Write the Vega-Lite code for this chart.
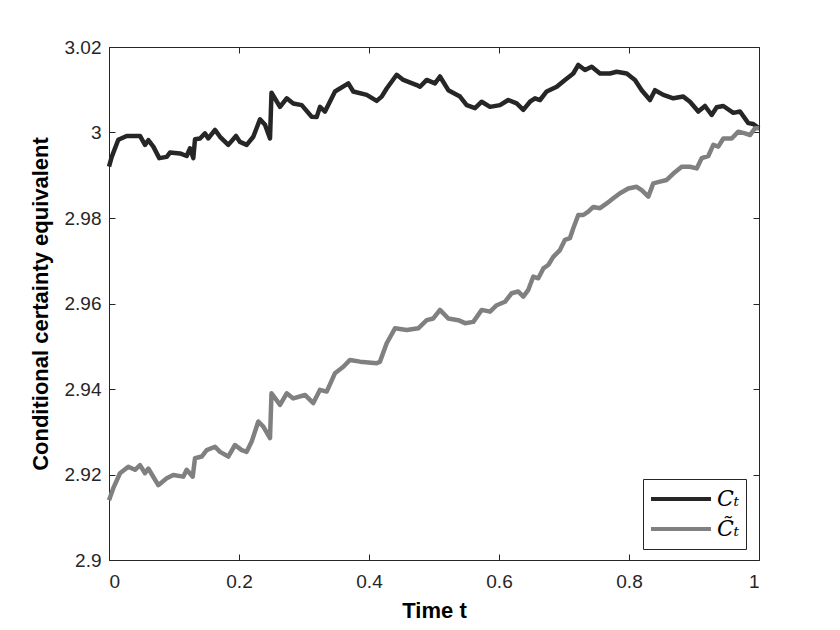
{
  "$schema": "https://vega.github.io/schema/vega-lite/v6.json",
  "width": 650,
  "height": 513,
  "autosize": "none",
  "padding": {"left": 109, "top": 47, "right": 81, "bottom": 70},
  "background": "white",
  "config": {
    "view": {"stroke": "#262626", "strokeWidth": 1},
    "font": "Liberation Sans",
    "axis": {"labelFontSize": 19, "titleFontSize": 22}
  },
  "data": {
    "values": [
      {"t": 0, "v": 2.992, "s": "a"},
      {"t": 0.0042, "v": 2.9943, "s": "a"},
      {"t": 0.0143, "v": 2.9983, "s": "a"},
      {"t": 0.0272, "v": 2.9992, "s": "a"},
      {"t": 0.0477, "v": 2.9992, "s": "a"},
      {"t": 0.0554, "v": 2.9971, "s": "a"},
      {"t": 0.0605, "v": 2.9982, "s": "a"},
      {"t": 0.0682, "v": 2.9967, "s": "a"},
      {"t": 0.0774, "v": 2.994, "s": "a"},
      {"t": 0.0888, "v": 2.9943, "s": "a"},
      {"t": 0.0938, "v": 2.9953, "s": "a"},
      {"t": 0.1092, "v": 2.9951, "s": "a"},
      {"t": 0.1195, "v": 2.9945, "s": "a"},
      {"t": 0.1246, "v": 2.9963, "s": "a"},
      {"t": 0.1297, "v": 2.994, "s": "a"},
      {"t": 0.1323, "v": 2.9984, "s": "a"},
      {"t": 0.14, "v": 2.9986, "s": "a"},
      {"t": 0.1477, "v": 2.9998, "s": "a"},
      {"t": 0.1528, "v": 2.9986, "s": "a"},
      {"t": 0.1631, "v": 3.0006, "s": "a"},
      {"t": 0.1708, "v": 2.999, "s": "a"},
      {"t": 0.1835, "v": 2.9971, "s": "a"},
      {"t": 0.1954, "v": 2.9992, "s": "a"},
      {"t": 0.2015, "v": 2.9978, "s": "a"},
      {"t": 0.2118, "v": 2.9971, "s": "a"},
      {"t": 0.222, "v": 2.999, "s": "a"},
      {"t": 0.2323, "v": 3.0031, "s": "a"},
      {"t": 0.24, "v": 3.0018, "s": "a"},
      {"t": 0.2477, "v": 2.9986, "s": "a"},
      {"t": 0.25, "v": 3.0093, "s": "a"},
      {"t": 0.2631, "v": 3.006, "s": "a"},
      {"t": 0.2734, "v": 3.008, "s": "a"},
      {"t": 0.2835, "v": 3.0068, "s": "a"},
      {"t": 0.2965, "v": 3.0064, "s": "a"},
      {"t": 0.3118, "v": 3.0037, "s": "a"},
      {"t": 0.3195, "v": 3.0036, "s": "a"},
      {"t": 0.3246, "v": 3.006, "s": "a"},
      {"t": 0.3323, "v": 3.0049, "s": "a"},
      {"t": 0.3477, "v": 3.0096, "s": "a"},
      {"t": 0.3682, "v": 3.0115, "s": "a"},
      {"t": 0.3758, "v": 3.0096, "s": "a"},
      {"t": 0.3965, "v": 3.0088, "s": "a"},
      {"t": 0.4118, "v": 3.0074, "s": "a"},
      {"t": 0.4195, "v": 3.0084, "s": "a"},
      {"t": 0.4272, "v": 3.0103, "s": "a"},
      {"t": 0.4426, "v": 3.0135, "s": "a"},
      {"t": 0.4528, "v": 3.0123, "s": "a"},
      {"t": 0.4734, "v": 3.0111, "s": "a"},
      {"t": 0.4785, "v": 3.0107, "s": "a"},
      {"t": 0.4888, "v": 3.0123, "s": "a"},
      {"t": 0.5015, "v": 3.0115, "s": "a"},
      {"t": 0.5092, "v": 3.0131, "s": "a"},
      {"t": 0.522, "v": 3.0099, "s": "a"},
      {"t": 0.54, "v": 3.0084, "s": "a"},
      {"t": 0.5503, "v": 3.0064, "s": "a"},
      {"t": 0.5631, "v": 3.0057, "s": "a"},
      {"t": 0.5734, "v": 3.0072, "s": "a"},
      {"t": 0.5862, "v": 3.006, "s": "a"},
      {"t": 0.6015, "v": 3.0064, "s": "a"},
      {"t": 0.6143, "v": 3.0076, "s": "a"},
      {"t": 0.6272, "v": 3.0068, "s": "a"},
      {"t": 0.6374, "v": 3.0053, "s": "a"},
      {"t": 0.6477, "v": 3.0072, "s": "a"},
      {"t": 0.6554, "v": 3.008, "s": "a"},
      {"t": 0.6631, "v": 3.0076, "s": "a"},
      {"t": 0.6734, "v": 3.0096, "s": "a"},
      {"t": 0.6888, "v": 3.0107, "s": "a"},
      {"t": 0.7015, "v": 3.0123, "s": "a"},
      {"t": 0.7143, "v": 3.0138, "s": "a"},
      {"t": 0.722, "v": 3.0158, "s": "a"},
      {"t": 0.7323, "v": 3.0146, "s": "a"},
      {"t": 0.7426, "v": 3.0154, "s": "a"},
      {"t": 0.7554, "v": 3.0138, "s": "a"},
      {"t": 0.7708, "v": 3.0138, "s": "a"},
      {"t": 0.7811, "v": 3.0142, "s": "a"},
      {"t": 0.7965, "v": 3.0138, "s": "a"},
      {"t": 0.8092, "v": 3.0123, "s": "a"},
      {"t": 0.8195, "v": 3.0099, "s": "a"},
      {"t": 0.8323, "v": 3.0076, "s": "a"},
      {"t": 0.84, "v": 3.0099, "s": "a"},
      {"t": 0.8528, "v": 3.0088, "s": "a"},
      {"t": 0.8682, "v": 3.008, "s": "a"},
      {"t": 0.8835, "v": 3.0084, "s": "a"},
      {"t": 0.8938, "v": 3.0072, "s": "a"},
      {"t": 0.9066, "v": 3.0049, "s": "a"},
      {"t": 0.9169, "v": 3.0062, "s": "a"},
      {"t": 0.9272, "v": 3.0041, "s": "a"},
      {"t": 0.9349, "v": 3.0059, "s": "a"},
      {"t": 0.9451, "v": 3.0062, "s": "a"},
      {"t": 0.9605, "v": 3.0046, "s": "a"},
      {"t": 0.9708, "v": 3.0049, "s": "a"},
      {"t": 0.9835, "v": 3.0022, "s": "a"},
      {"t": 0.9912, "v": 3.002, "s": "a"},
      {"t": 1, "v": 3.001, "s": "a"},
      {"t": 0, "v": 2.914, "s": "b"},
      {"t": 0.0066, "v": 2.9168, "s": "b"},
      {"t": 0.0169, "v": 2.9203, "s": "b"},
      {"t": 0.0297, "v": 2.9218, "s": "b"},
      {"t": 0.04, "v": 2.9211, "s": "b"},
      {"t": 0.0477, "v": 2.9222, "s": "b"},
      {"t": 0.0554, "v": 2.9203, "s": "b"},
      {"t": 0.0605, "v": 2.9214, "s": "b"},
      {"t": 0.0758, "v": 2.9175, "s": "b"},
      {"t": 0.0888, "v": 2.9191, "s": "b"},
      {"t": 0.0989, "v": 2.9199, "s": "b"},
      {"t": 0.1143, "v": 2.9195, "s": "b"},
      {"t": 0.1195, "v": 2.9211, "s": "b"},
      {"t": 0.1288, "v": 2.9195, "s": "b"},
      {"t": 0.1323, "v": 2.9238, "s": "b"},
      {"t": 0.1426, "v": 2.9242, "s": "b"},
      {"t": 0.1503, "v": 2.9257, "s": "b"},
      {"t": 0.1631, "v": 2.9265, "s": "b"},
      {"t": 0.1708, "v": 2.9253, "s": "b"},
      {"t": 0.1835, "v": 2.9242, "s": "b"},
      {"t": 0.1938, "v": 2.9269, "s": "b"},
      {"t": 0.2042, "v": 2.9257, "s": "b"},
      {"t": 0.2118, "v": 2.9253, "s": "b"},
      {"t": 0.2195, "v": 2.9277, "s": "b"},
      {"t": 0.2297, "v": 2.9324, "s": "b"},
      {"t": 0.2374, "v": 2.9312, "s": "b"},
      {"t": 0.2477, "v": 2.9285, "s": "b"},
      {"t": 0.25, "v": 2.939, "s": "b"},
      {"t": 0.2631, "v": 2.9363, "s": "b"},
      {"t": 0.2734, "v": 2.939, "s": "b"},
      {"t": 0.2835, "v": 2.9378, "s": "b"},
      {"t": 0.3015, "v": 2.9386, "s": "b"},
      {"t": 0.3143, "v": 2.9367, "s": "b"},
      {"t": 0.3246, "v": 2.9398, "s": "b"},
      {"t": 0.3349, "v": 2.9394, "s": "b"},
      {"t": 0.3477, "v": 2.9437, "s": "b"},
      {"t": 0.3605, "v": 2.9452, "s": "b"},
      {"t": 0.3708, "v": 2.9468, "s": "b"},
      {"t": 0.3862, "v": 2.9464, "s": "b"},
      {"t": 0.4118, "v": 2.946, "s": "b"},
      {"t": 0.4169, "v": 2.9464, "s": "b"},
      {"t": 0.4272, "v": 2.9507, "s": "b"},
      {"t": 0.44, "v": 2.9542, "s": "b"},
      {"t": 0.458, "v": 2.9538, "s": "b"},
      {"t": 0.4758, "v": 2.9542, "s": "b"},
      {"t": 0.4888, "v": 2.9561, "s": "b"},
      {"t": 0.4989, "v": 2.9565, "s": "b"},
      {"t": 0.5092, "v": 2.9585, "s": "b"},
      {"t": 0.522, "v": 2.9565, "s": "b"},
      {"t": 0.5374, "v": 2.9561, "s": "b"},
      {"t": 0.5477, "v": 2.9554, "s": "b"},
      {"t": 0.5605, "v": 2.9557, "s": "b"},
      {"t": 0.5734, "v": 2.9585, "s": "b"},
      {"t": 0.5862, "v": 2.9581, "s": "b"},
      {"t": 0.5965, "v": 2.9596, "s": "b"},
      {"t": 0.6092, "v": 2.9604, "s": "b"},
      {"t": 0.6195, "v": 2.9624, "s": "b"},
      {"t": 0.6297, "v": 2.9628, "s": "b"},
      {"t": 0.6374, "v": 2.9616, "s": "b"},
      {"t": 0.6451, "v": 2.9632, "s": "b"},
      {"t": 0.6528, "v": 2.9663, "s": "b"},
      {"t": 0.6605, "v": 2.9659, "s": "b"},
      {"t": 0.6682, "v": 2.9682, "s": "b"},
      {"t": 0.6758, "v": 2.969, "s": "b"},
      {"t": 0.6835, "v": 2.9709, "s": "b"},
      {"t": 0.6938, "v": 2.9725, "s": "b"},
      {"t": 0.7015, "v": 2.9749, "s": "b"},
      {"t": 0.7092, "v": 2.9753, "s": "b"},
      {"t": 0.7143, "v": 2.9776, "s": "b"},
      {"t": 0.722, "v": 2.9807, "s": "b"},
      {"t": 0.7297, "v": 2.9807, "s": "b"},
      {"t": 0.7374, "v": 2.9815, "s": "b"},
      {"t": 0.7451, "v": 2.9826, "s": "b"},
      {"t": 0.7554, "v": 2.9823, "s": "b"},
      {"t": 0.7657, "v": 2.9834, "s": "b"},
      {"t": 0.7758, "v": 2.9846, "s": "b"},
      {"t": 0.7862, "v": 2.9858, "s": "b"},
      {"t": 0.7989, "v": 2.9869, "s": "b"},
      {"t": 0.8118, "v": 2.9873, "s": "b"},
      {"t": 0.8195, "v": 2.9865, "s": "b"},
      {"t": 0.8297, "v": 2.985, "s": "b"},
      {"t": 0.8374, "v": 2.9881, "s": "b"},
      {"t": 0.8477, "v": 2.9885, "s": "b"},
      {"t": 0.858, "v": 2.9889, "s": "b"},
      {"t": 0.8682, "v": 2.9904, "s": "b"},
      {"t": 0.8811, "v": 2.992, "s": "b"},
      {"t": 0.8938, "v": 2.992, "s": "b"},
      {"t": 0.9042, "v": 2.9916, "s": "b"},
      {"t": 0.9118, "v": 2.994, "s": "b"},
      {"t": 0.922, "v": 2.9945, "s": "b"},
      {"t": 0.9297, "v": 2.9971, "s": "b"},
      {"t": 0.9374, "v": 2.9967, "s": "b"},
      {"t": 0.9451, "v": 2.9986, "s": "b"},
      {"t": 0.958, "v": 2.9986, "s": "b"},
      {"t": 0.9682, "v": 3.0002, "s": "b"},
      {"t": 0.9785, "v": 2.9998, "s": "b"},
      {"t": 0.9862, "v": 2.9994, "s": "b"},
      {"t": 0.9938, "v": 3.001, "s": "b"},
      {"t": 1, "v": 3.001, "s": "b"}
    ]
  },
  "layer": [
    {
      "mark": {"type": "line", "strokeWidth": 4.5, "strokeJoin": "round"},
      "encoding": {
        "x": {"field": "t", "type": "quantitative", "scale": {"domain": [0, 1], "nice": false},
          "axis": {"orient": "bottom", "values": [0, 0.2, 0.4, 0.6, 0.8, 1], "format": "~g", "domain": false, "ticks": false, "grid": true, "gridDash": [6, 2000], "gridColor": "#262626", "gridOpacity": 1, "gridWidth": 1, "labelFont": "Liberation Sans", "labelFontSize": 19, "labelColor": "#262626", "labelPadding": 12, "title": "Time t", "titleFont": "Liberation Sans", "titleFontSize": 22, "titleFontWeight": "bold", "titleColor": "#000000", "titlePadding": 9}},
        "y": {"field": "v", "type": "quantitative", "scale": {"domain": [2.9, 3.02], "nice": false, "zero": false},
          "axis": {"orient": "left", "values": [2.9, 2.92, 2.94, 2.96, 2.98, 3, 3.02], "format": "~g", "domain": false, "ticks": false, "grid": true, "gridDash": [6, 2000], "gridColor": "#262626", "gridOpacity": 1, "gridWidth": 1, "labelFont": "Liberation Sans", "labelFontSize": 19, "labelColor": "#262626", "labelPadding": 8, "title": "Conditional certainty equivalent", "titleFont": "Liberation Sans", "titleFontSize": 22, "titleFontWeight": "bold", "titleColor": "#000000", "titlePadding": 12}},
        "color": {"field": "s", "type": "nominal", "scale": {"domain": ["a", "b"], "range": ["#262626", "#808080"]},
          "legend": {"orient": "none", "legendX": 534, "legendY": 432, "title": null, "labelExpr": "datum.value == 'a' ? 'Cₜ' : 'C̃ₜ'", "labelFont": "DejaVu Serif", "labelFontStyle": "italic", "labelFontSize": 22, "labelColor": "#000000", "labelOffset": 4, "symbolType": "stroke", "symbolSize": 3600, "symbolStrokeWidth": 4, "clipHeight": 28, "rowPadding": 2, "strokeColor": "#262626", "fillColor": "white", "padding": 6}}
      }
    },
    {
      "mark": {"type": "line", "opacity": 0},
      "encoding": {
        "x": {"field": "t", "type": "quantitative", "axis": {"orient": "top", "values": [0, 0.2, 0.4, 0.6, 0.8, 1], "labels": false, "title": null, "domain": false, "ticks": false, "grid": true, "gridDash": [6, 2000], "gridColor": "#262626", "gridOpacity": 1, "gridWidth": 1}},
        "y": {"field": "v", "type": "quantitative", "axis": {"orient": "right", "values": [2.9, 2.92, 2.94, 2.96, 2.98, 3, 3.02], "labels": false, "title": null, "domain": false, "ticks": false, "grid": true, "gridDash": [6, 2000], "gridColor": "#262626", "gridOpacity": 1, "gridWidth": 1}},
        "detail": {"field": "s"}
      }
    }
  ],
  "resolve": {"axis": {"x": "independent", "y": "independent"}}
}
